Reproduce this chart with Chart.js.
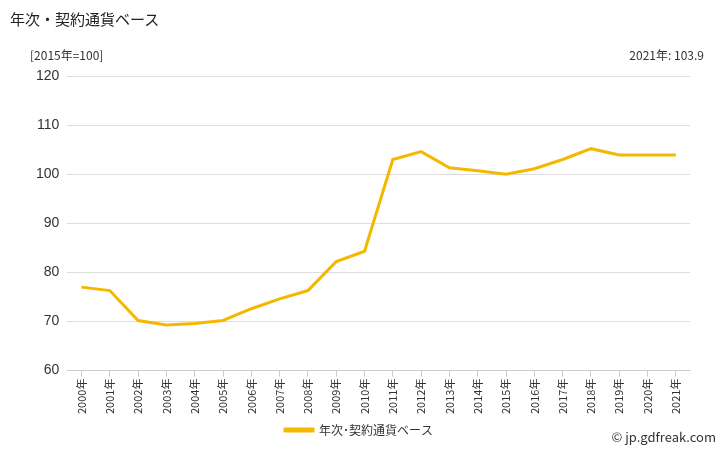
<!DOCTYPE html>
<html><head><meta charset="utf-8">
<script src="https://cdn.jsdelivr.net/npm/chart.js"></script>
<style>body{margin:0;background:#fff;font-family:"Noto Sans CJK JP",sans-serif}
#w{position:relative;width:728px;height:450px}
.t{position:absolute;font-size:12px;color:#333}
</style></head><body>
<div id="w">
<div class="t" style="left:10px;top:8px;font-size:15px;color:#222">年次・契約通貨ベース</div>
<div class="t" style="left:30px;top:46px">[2015年=100]</div>
<div class="t" style="right:24px;top:46px">2021年: 103.9</div>
<div class="t" style="right:12px;top:427px;font-size:13px">© jp.gdfreak.com</div>
<canvas id="c" width="728" height="450"></canvas>
</div>
<script>
const categories=["2000年","2001年","2002年","2003年","2004年","2005年","2006年","2007年","2008年","2009年","2010年","2011年","2012年","2013年","2014年","2015年","2016年","2017年","2018年","2019年","2020年","2021年"];
const values=[77.0,76.3,70.2,69.3,69.6,70.2,72.6,74.6,76.3,82.2,84.3,103.0,104.6,101.3,100.7,100.0,101.1,103.0,105.2,103.9,103.9,103.9];
const yTicks=[60,70,80,90,100,110,120];
new Chart(document.getElementById('c'),{type:'line',
data:{labels:categories,datasets:[{label:'年次･契約通貨ベース',data:values,borderColor:'#f5b800',backgroundColor:'#f5b800',borderWidth:3,pointRadius:0,tension:0}]},
options:{responsive:false,animation:false,
layout:{padding:{left:28,right:38,top:76,bottom:4}},
plugins:{legend:{position:'bottom',labels:{boxWidth:28,boxHeight:2,padding:8,font:{size:12,family:'Noto Sans CJK JP'},color:'#333'}},tooltip:{enabled:false}},
scales:{x:{offset:true,grid:{drawOnChartArea:false,color:'#ccc',tickLength:6},border:{color:'#ccc'},ticks:{maxRotation:90,minRotation:90,padding:2,font:{size:11,family:'Noto Sans CJK JP'},color:'#333'}},
y:{min:60,max:120,afterBuildTicks:a=>{a.ticks=yTicks.map(v=>({value:v}))},grid:{color:'#ddd',tickLength:0},border:{display:false},ticks:{padding:8,font:{size:14},color:'#333'}}}}});
</script></body></html>
